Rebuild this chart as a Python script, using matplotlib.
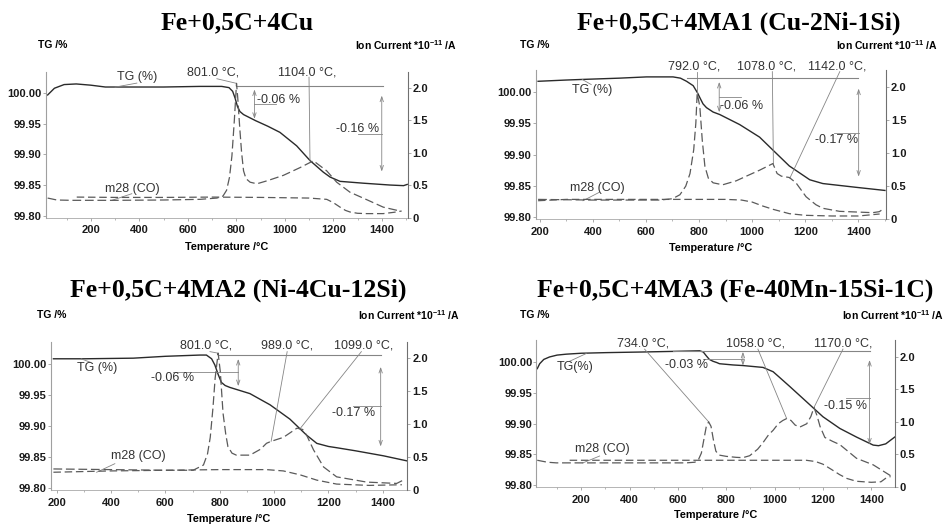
#!/usr/bin/env python3
"""
TG / MS (m28, CO) curves for four Fe+0,5C mixtures, 2x2 panel.
"""

import matplotlib

matplotlib.use("Agg")
import matplotlib.pyplot as plt
from matplotlib import font_manager
from matplotlib.ticker import MultipleLocator

W, H = 946, 524
TG_LIM = (99.797, 100.035)
ION_LIM = (0.0, 2.25)

# --- Fe+0,5C+4Cu -------------------------------------------------------------
P1_TG_T = [22, 50, 90, 140, 200, 260, 350, 500, 650, 740, 770, 785, 795, 805, 815,
           830, 860, 880, 930, 980, 1049, 1104, 1159, 1187, 1228, 1324, 1434, 1490, 1505]
P1_TG = [99.997, 100.008, 100.014, 100.015, 100.013, 100.010, 100.010, 100.010, 100.011,
         100.011, 100.009, 100.003, 99.992, 99.978, 99.970, 99.965, 99.959, 99.955, 99.946,
         99.936, 99.914, 99.890, 99.871, 99.863, 99.856, 99.853, 99.850, 99.849, 99.851]
P1_CO_T = [22, 60, 120, 300, 500, 650, 720, 745, 760, 772, 782, 792, 801, 806, 814, 822,
           830, 840, 857, 885, 930, 994, 1063, 1118, 1173, 1214, 1269, 1338, 1406, 1475]
P1_CO = [0.30, 0.27, 0.265, 0.265, 0.27, 0.28, 0.30, 0.33, 0.42, 0.62, 0.95, 1.50, 2.07,
         1.85, 1.40, 1.00, 0.72, 0.60, 0.545, 0.52, 0.57, 0.65, 0.77, 0.875, 0.72, 0.545,
         0.39, 0.275, 0.16, 0.10]
P1_BASE_T = [142, 300, 500, 700, 900, 1100, 1173, 1200, 1228, 1250, 1269, 1300, 1338,
             1406, 1450, 1482]
P1_BASE = [0.315, 0.31, 0.31, 0.315, 0.31, 0.30, 0.28, 0.23, 0.16, 0.11, 0.085, 0.065,
           0.06, 0.06, 0.08, 0.10]

# --- Fe+0,5C+4MA1 (Cu-2Ni-1Si) -----------------------------------------------
P2_TG_T = [194, 300, 363, 500, 602, 702, 730, 753, 778, 795, 803, 815, 828, 853, 878,
           953, 1028, 1079, 1140, 1154, 1217, 1266, 1391, 1500]
P2_TG = [100.017, 100.019, 100.020, 100.022, 100.024, 100.024, 100.022, 100.017, 100.010,
         99.998, 99.991, 99.981, 99.975, 99.968, 99.964, 99.948, 99.928, 99.907, 99.882,
         99.878, 99.860, 99.854, 99.848, 99.843]
P2_CO_T = [194, 400, 600, 652, 700, 728, 750, 766, 780, 788, 793, 803, 812, 822, 835, 853,
           889, 940, 978, 1028, 1078, 1094, 1110, 1140, 1165, 1203, 1240, 1266, 1329, 1454,
           1479, 1495]
P2_CO = [0.30, 0.29, 0.29, 0.29, 0.31, 0.37, 0.50, 0.69, 1.05, 1.45, 1.90, 1.70, 1.20,
         0.80, 0.62, 0.55, 0.52, 0.58, 0.65, 0.74, 0.84, 0.69, 0.65, 0.63, 0.55, 0.34, 0.22,
         0.166, 0.12, 0.10, 0.115, 0.16]
P2_BASE_T = [194, 300, 500, 700, 900, 960, 1000, 1040, 1079, 1140, 1200, 1300, 1400, 1480]
P2_BASE = [0.28, 0.30, 0.30, 0.30, 0.30, 0.29, 0.26, 0.20, 0.15, 0.085, 0.06, 0.05, 0.05,
           0.08]

# --- Fe+0,5C+4MA2 (Ni-4Cu-12Si) ----------------------------------------------
P3_TG_T = [188, 300, 482, 600, 727, 751, 770, 782, 794, 806, 820, 837, 911, 985, 1058,
           1120, 1157, 1200, 1230, 1300, 1402, 1487]
P3_TG = [100.008, 100.008, 100.009, 100.012, 100.014, 100.014, 100.008, 99.998, 99.983,
         99.970, 99.965, 99.962, 99.952, 99.934, 99.911, 99.885, 99.872, 99.867, 99.865,
         99.860, 99.852, 99.844]
P3_CO_T = [188, 400, 600, 702, 740, 755, 765, 775, 783, 794, 802, 812, 822, 830, 845, 861,
           911, 950, 972, 989, 1034, 1084, 1105, 1120, 1145, 1182, 1230, 1341, 1451, 1475]
P3_CO = [0.32, 0.31, 0.30, 0.30, 0.38, 0.55, 0.80, 1.25, 1.70, 2.08, 1.80, 1.17, 0.85,
         0.66, 0.56, 0.53, 0.53, 0.62, 0.71, 0.74, 0.80, 0.94, 0.92, 0.83, 0.61, 0.35, 0.20,
         0.12, 0.10, 0.15]
P3_BASE_T = [188, 400, 600, 800, 972, 1034, 1096, 1157, 1230, 1350, 1470]
P3_BASE = [0.27, 0.29, 0.30, 0.31, 0.31, 0.29, 0.23, 0.15, 0.09, 0.07, 0.08]

# --- Fe+0,5C+4MA3 (Fe-40Mn-15Si-1C) ------------------------------------------
P4_TG_T = [18, 28, 45, 69, 100, 138, 200, 303, 450, 579, 690, 705, 717, 730, 745, 760,
           772, 800, 828, 870, 952, 994, 1020, 1063, 1133, 1200, 1270, 1339, 1408, 1430,
           1460, 1497]
P4_TG = [99.989, 99.997, 100.004, 100.008, 100.011, 100.0125, 100.014, 100.015, 100.016,
         100.017, 100.018, 100.016, 100.010, 100.004, 100.001, 99.999, 99.997, 99.996,
         99.995, 99.994, 99.991, 99.984, 99.975, 99.960, 99.935, 99.911, 99.892, 99.878,
         99.865, 99.864, 99.867, 99.878]
P4_CO_T = [18, 60, 97, 300, 500, 634, 670, 685, 697, 707, 717, 727, 737, 747, 757, 770,
           800, 841, 869, 897, 930, 952, 975, 994, 1015, 1034, 1050, 1068, 1085, 1105, 1133,
           1150, 1163, 1175, 1188, 1208, 1240, 1270, 1339, 1408, 1477, 1490]
P4_CO = [0.41, 0.38, 0.37, 0.37, 0.37, 0.37, 0.38, 0.42, 0.52, 0.72, 0.92, 1.00, 0.93,
         0.72, 0.55, 0.49, 0.47, 0.455, 0.45, 0.48, 0.58, 0.68, 0.80, 0.87, 0.97, 1.02,
         1.05, 1.02, 0.95, 0.92, 0.97, 1.08, 1.22, 1.10, 0.93, 0.76, 0.70, 0.65, 0.44, 0.34,
         0.18, 0.14]
P4_BASE_T = [152, 300, 500, 700, 900, 1131, 1170, 1200, 1235, 1269, 1300, 1338, 1400,
             1440, 1462, 1480]
P4_BASE = [0.41, 0.41, 0.41, 0.41, 0.41, 0.41, 0.39, 0.35, 0.27, 0.19, 0.13, 0.088, 0.072,
           0.08, 0.14, 0.16]

TITLES = [
    "Fe+0,5C+4Cu",
    "Fe+0,5C+4MA1 (Cu-2Ni-1Si)",
    "Fe+0,5C+4MA2 (Ni-4Cu-12Si)",
    "Fe+0,5C+4MA3 (Fe-40Mn-15Si-1C)",
]
TG_TICKS = [99.80, 99.85, 99.90, 99.95, 100.00]
ION_TICKS = [0, 0.5, 1.0, 1.5, 2.0]
ION_TICK_LABELS = ["0", "0.5", "1.0", "1.5", "2.0"]

_installed = {f.name for f in font_manager.fontManager.ttflist}
NARROW = "Liberation Sans Narrow" in _installed
AXIS_FONT = "Liberation Sans Narrow" if NARROW else "Liberation Sans"
TICK_SIZE = 9 if NARROW else 8
LABEL_SIZE = 8.6 if NARROW else 7.5
ANNO_FONT = "Liberation Sans"
LINE_C = "#2a2a2a"
DASH_C = "#5a5a5a"
GUIDE_C = "#858585"
TEXT_C = "#333333"


def ion_to_tg(v):
    return TG_LIM[0] + (v - ION_LIM[0]) / (ION_LIM[1] - ION_LIM[0]) * (TG_LIM[1] - TG_LIM[0])


def ftext(fig, px, py, s, **kw):
    fig.text(px / W, 1 - py / H, s, **kw)


def setup_axes(fig, box, xlim):
    left, top, right, bottom = box
    ax = fig.add_axes([left / W, 1 - bottom / H, (right - left) / W, (bottom - top) / H])
    ax2 = ax.twinx()
    ax.set_xlim(*xlim)
    ax.set_ylim(*TG_LIM)
    ax2.set_ylim(*ION_LIM)
    ax.set_xticks([200, 400, 600, 800, 1000, 1200, 1400])
    ax.xaxis.set_minor_locator(MultipleLocator(100))
    ax.set_yticks(TG_TICKS, [f"{v:.2f}" for v in TG_TICKS])
    ax2.set_yticks(ION_TICKS, ION_TICK_LABELS)
    for a in (ax, ax2):
        a.patch.set_visible(False)
        a.spines["top"].set_visible(False)
    ax.spines["right"].set_visible(False)
    ax.spines["left"].set_color("#a0a0a0")
    ax.spines["bottom"].set_color("#a8a8a8")
    ax.spines["left"].set_linewidth(0.8)
    ax.spines["bottom"].set_linewidth(0.6)
    ax2.spines["left"].set_visible(False)
    ax2.spines["bottom"].set_visible(False)
    ax2.spines["right"].set_color("#707070")
    ax2.spines["right"].set_linewidth(0.8)
    ax.tick_params(axis="x", which="major", length=2, width=0.5, color="#888", pad=3.5)
    ax.tick_params(axis="x", which="minor", length=1.5, width=0.5, color="#999")
    ax.tick_params(axis="y", length=2, width=0.5, color="#888", pad=1)
    ax2.tick_params(axis="y", length=2, width=0.5, color="#888", pad=1.5)
    for lbl in ax.get_xticklabels() + ax.get_yticklabels() + ax2.get_yticklabels():
        lbl.set_family(AXIS_FONT)
        lbl.set_weight("bold")
        lbl.set_size(TICK_SIZE)
        lbl.set_color("#1a1a1a")
    return ax, ax2


def draw_curves(ax, ax2, tg_t, tg, co_t, co, base_t, base):
    ax.plot(tg_t, tg, color=LINE_C, lw=1.0)
    ax2.plot(co_t, co, color=DASH_C, lw=0.9, ls=(0, (7, 3)))
    ax2.plot(base_t, base, color=DASH_C, lw=0.9, ls=(0, (6, 3)))


def guide(ax, x0, y0, x1, y1, lw=0.6):
    ax.plot([x0, x1], [y0, y1], color=GUIDE_C, lw=lw, clip_on=False)


def anno(ax, x, y, s):
    ax.text(x, y, s, ha="center", va="center", family=ANNO_FONT, size=9, color=TEXT_C,
            clip_on=False)


def peak(ax, s, tx, ty, start, end_ion):
    anno(ax, tx, ty, s)
    guide(ax, start[0], start[1], end_ion[0], ion_to_tg(end_ion[1]))


def step(ax, t, y_top, y_bot, s, tx, ty, lead_y, lead_x0, lead_x1):
    ax.annotate("", xy=(t, y_bot), xytext=(t, y_top),
                arrowprops=dict(arrowstyle="<->,head_length=0.35,head_width=0.12",
                                color=GUIDE_C, lw=0.6, shrinkA=0, shrinkB=0))
    anno(ax, tx, ty, s)
    guide(ax, lead_x0, lead_y, lead_x1, lead_y)


def frame_text(fig, title, title_xy, tg_xy, ion_xy, temp_xy):
    ftext(fig, *title_xy, title, family="Liberation Serif", weight="bold", size=18.5,
          ha="center", va="baseline")
    ftext(fig, *tg_xy, "TG /%", family=AXIS_FONT, weight="bold", size=LABEL_SIZE,
          ha="left", va="center")
    ftext(fig, *ion_xy, r"Ion Current *10$^{-11}$ /A", family=AXIS_FONT, weight="bold",
          size=LABEL_SIZE, ha="right", va="center")
    ftext(fig, *temp_xy, "Temperature /°C", family=AXIS_FONT, weight="bold",
          size=LABEL_SIZE + 0.3, ha="center", va="center")


def main():
    plt.rcParams["mathtext.default"] = "regular"
    fig = plt.figure(figsize=(W / 100, H / 100), dpi=100)
    fig.patch.set_facecolor("white")

    # panel 1
    ax, ax2 = setup_axes(fig, (45.7, 71.7, 407.7, 217.5), (14, 1507))
    draw_curves(ax, ax2, P1_TG_T, P1_TG, P1_CO_T, P1_CO, P1_BASE_T, P1_BASE)
    guide(ax, 800, 100.011, 1404, 100.011, lw=0.8)
    peak(ax, "801.0 °C,", 706, 100.034, (720, 100.0235), (801, 2.07))
    peak(ax, "1104.0 °C,", 1092, 100.034, (1100, 100.026), (1104, 0.875))
    step(ax, 875, 100.006, 99.958, "-0.06 %", 973, 99.9895, 99.9827, 875, 962)
    step(ax, 1400, 99.996, 99.872, "-0.16 %", 1302, 99.942, 99.9325, 1304, 1400)
    anno(ax, 390, 100.026, "TG (%)")
    guide(ax, 390, 100.0164, 300, 100.0098)
    anno(ax, 372, ion_to_tg(0.443), "m28 (CO)")
    guide(ax, 369, ion_to_tg(0.367), 287, ion_to_tg(0.265))
    frame_text(fig, TITLES[0], (236.7, 29.3), (38, 45), (457, 45), (226.7, 246.7))

    # panel 2
    ax, ax2 = setup_axes(fig, (535.7, 70, 886, 219.3), (185, 1504))
    draw_curves(ax, ax2, P2_TG_T, P2_TG, P2_CO_T, P2_CO, P2_BASE_T, P2_BASE)
    guide(ax, 753, 100.0227, 1400, 100.0227, lw=0.8)
    peak(ax, "792.0 °C,", 783, 100.0405, (792, 100.0324), (792, 1.87))
    peak(ax, "1078.0 °C,", 1056, 100.0405, (1076, 100.0324), (1080, 0.84))
    peak(ax, "1142.0 °C,", 1320, 100.0405, (1330, 100.0324), (1142, 0.62))
    step(ax, 876, 100.016, 99.9676, "-0.06 %", 961, 99.978, 99.9919, 876, 958)
    step(ax, 1401, 100.0054, 99.865, "-0.17 %", 1316, 99.923, 99.935, 1310, 1401)
    anno(ax, 397, 100.0026, "TG (%)")
    guide(ax, 394, 100.0118, 360, 100.020)
    anno(ax, 416, ion_to_tg(0.47), "m28 (CO)")
    guide(ax, 426, ion_to_tg(0.41), 363, ion_to_tg(0.28))
    frame_text(fig, TITLES[1], (739, 29.3), (519.7, 45), (938, 45), (711, 248))

    # panel 3
    ax, ax2 = setup_axes(fig, (50.7, 342, 407.3, 490), (178, 1490))
    draw_curves(ax, ax2, P3_TG_T, P3_TG, P3_CO_T, P3_CO, P3_BASE_T, P3_BASE)
    guide(ax, 794, 100.0134, 1392, 100.0134, lw=0.8)
    peak(ax, "801.0 °C,", 751, 100.0297, (764, 100.0195), (794, 2.08))
    peak(ax, "989.0 °C,", 1046, 100.0297, (1048, 100.0195), (989, 0.74))
    peak(ax, "1099.0 °C,", 1330, 100.0297, (1321, 100.0195), (1095, 0.93))
    step(ax, 868, 100.0077, 99.964, "-0.06 %", 628, 99.977, 99.987, 629, 868)
    step(ax, 1392, 99.995, 99.867, "-0.17 %", 1291, 99.9205, 99.932, 1291, 1392)
    anno(ax, 347, 99.9938, "TG (%)")
    guide(ax, 323, 100.0026, 290, 100.008)
    anno(ax, 500, ion_to_tg(0.514), "m28 (CO)")
    guide(ax, 414, ion_to_tg(0.40), 347, ion_to_tg(0.27))
    frame_text(fig, TITLES[2], (238.3, 296.3), (36.7, 315.3), (460, 315.3), (229, 519))

    # panel 4
    ax, ax2 = setup_axes(fig, (536.3, 340.3, 894.7, 487), (14, 1497))
    draw_curves(ax, ax2, P4_TG_T, P4_TG, P4_CO_T, P4_CO, P4_BASE_T, P4_BASE)
    guide(ax, 579, 100.018, 1393, 100.018, lw=0.8)
    peak(ax, "734.0 °C,", 455, 100.030, (462, 100.0207), (727, 1.00))
    peak(ax, "1058.0 °C,", 921, 100.030, (931, 100.0207), (1050, 1.05))
    peak(ax, "1170.0 °C,", 1283, 100.030, (1283, 100.0207), (1163, 1.22))
    step(ax, 869, 100.0163, 99.994, "-0.03 %", 637, 99.9957, 100.0054, 703, 869)
    step(ax, 1393, 100.003, 99.866, "-0.15 %", 1292, 99.928, 99.941, 1297, 1393)
    anno(ax, 175, 99.992, "TG(%)")
    guide(ax, 152, 100.001, 221, 100.0136)
    anno(ax, 286, ion_to_tg(0.58), "m28 (CO)")
    guide(ax, 276, ion_to_tg(0.475), 207, ion_to_tg(0.37))
    frame_text(fig, TITLES[3], (734.7, 297), (519.7, 315.3), (944, 315.3), (715.5, 515))

    fig.savefig("out.png", dpi=100, facecolor="white")


if __name__ == "__main__":
    main()
